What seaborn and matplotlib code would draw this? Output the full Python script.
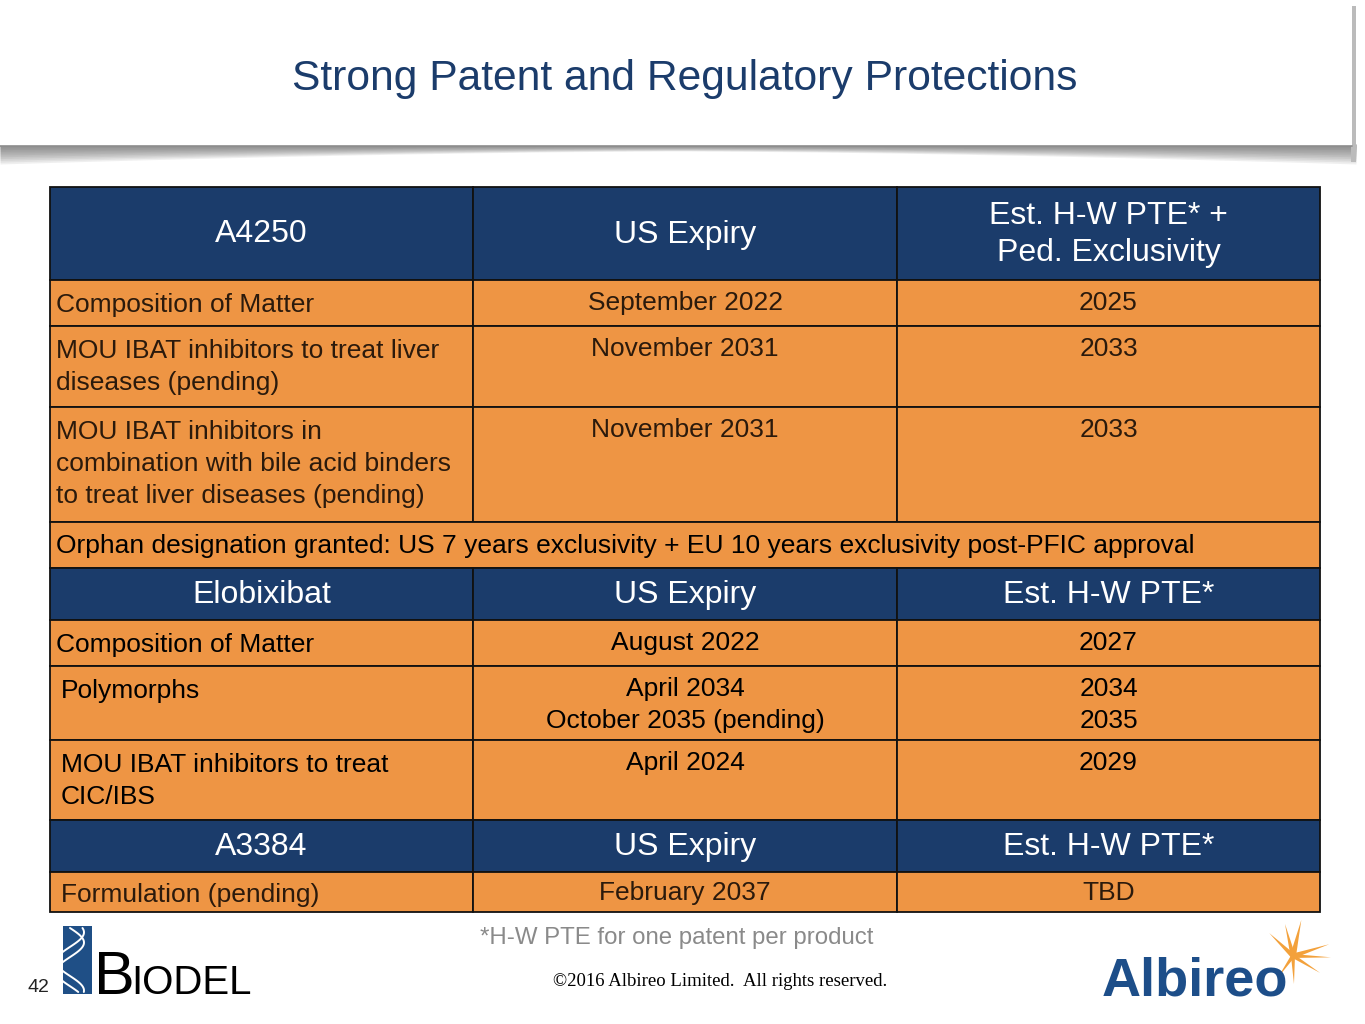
import matplotlib.pyplot as plt
import numpy as np
import seaborn as sns
from matplotlib.patches import Rectangle, Polygon

# ---- data ----
product_names = ["A4250", "Elobixibat", "A3384"]
expiry_heads = ["US Expiry", "US Expiry", "US Expiry"]
pte_heads = ["Est. H-W PTE* +\nPed. Exclusivity", "Est. H-W PTE*", "Est. H-W PTE*"]

a4250_items = [
    "Composition of Matter",
    "MOU IBAT inhibitors to treat liver\ndiseases (pending)",
    "MOU IBAT inhibitors in\ncombination with bile acid binders\nto treat liver diseases (pending)",
]
a4250_expiry = ["September 2022", "November 2031", "November 2031"]
a4250_pte = ["2025", "2033", "2033"]
orphan_note = ("Orphan designation granted: US 7 years exclusivity + "
               "EU 10 years exclusivity post-PFIC approval")

elobixibat_items = ["Composition of Matter", "Polymorphs",
                    "MOU IBAT inhibitors to treat\nCIC/IBS"]
elobixibat_expiry = ["August 2022", "April 2034\nOctober 2035 (pending)", "April 2024"]
elobixibat_pte = ["2027", "2034\n2035", "2029"]

a3384_items = ["Formulation (pending)"]
a3384_expiry = ["February 2037"]
a3384_pte = ["TBD"]

title = "Strong Patent and Regulatory Protections"
footnote = "*H-W PTE for one patent per product"
copyright_note = "\u00a92016 Albireo Limited.  All rights reserved."
page_number = "42"

# ---- layout ----
NAVY = "#1b3c6b"
ORANGE = "#ee9544"
col_edges = [50, 473, 897, 1320]
header_heights = [93, 52, 52]
body_heights = [[46, 81, 115], [46, 74, 80], [40]]
item_pads = [[6, 6, 6], [6, 11, 11], [11]]
orphan_height = 46
FS = 19

sns.set_theme(style="white")
plt.rcParams["font.family"] = ["Liberation Sans", "DejaVu Sans"]

fig = plt.figure(figsize=(13.65, 10.24), dpi=100)
ax = fig.add_axes([0, 0, 1, 1])
ax.set_xlim(0, 1365)
ax.set_ylim(1024, 0)
ax.axis("off")

# banner with curled shadow
xs = np.linspace(0, 1356, 300)
bow = np.abs((xs - 678) / 678) ** 1.6
for k in range(10):
    depth = 146 + (5 + 13 * bow) * (k + 1) / 10
    ax.fill_between(xs, 144, depth, color="#555555", alpha=0.09, lw=0, zorder=1)
ax.fill_between([1351, 1356], 6, 162, color="#bbbbbb", lw=0, zorder=1)
ax.add_patch(Rectangle((0, 0), 1352, 146, color="white", lw=0, zorder=2))
ax.plot([0, 1352], [146, 146], color="#8c8c8c", lw=1.2, zorder=2)
ax.text(685, 79, title, ha="center", va="center", fontsize=30.7, color=NAVY, zorder=3)

sections = [
    (a4250_items, a4250_expiry, a4250_pte),
    (elobixibat_items, elobixibat_expiry, elobixibat_pte),
    (a3384_items, a3384_expiry, a3384_pte),
]
text_colors = ["#2b1a0c", "black", "#2b1a0c"]
y = 187
for s, (items, expiry, pte) in enumerate(sections):
    h = header_heights[s]
    heads = [product_names[s], expiry_heads[s], pte_heads[s]]
    for c in range(3):
        x0, x1 = col_edges[c], col_edges[c + 1]
        ax.add_patch(Rectangle((x0, y), x1 - x0, h, facecolor=NAVY,
                               edgecolor="#111111", lw=1.3, zorder=4))
        ax.text((x0 + x1) / 2, y + h / 2 + 1, heads[c], ha="center", va="center",
                fontsize=23, color="white", linespacing=1.32, zorder=5)
    y += h
    tc = text_colors[s]
    for r in range(len(items)):
        h = body_heights[s][r]
        off = 11 if s == 2 else 13
        for c in range(3):
            x0, x1 = col_edges[c], col_edges[c + 1]
            ax.add_patch(Rectangle((x0, y), x1 - x0, h, facecolor=ORANGE,
                                   edgecolor="#111111", lw=1.3, zorder=4))
        ax.text(col_edges[0] + item_pads[s][r], y + off, items[r], ha="left", va="top",
                fontsize=FS, color=tc, linespacing=1.42, zorder=5)
        ax.text((col_edges[1] + col_edges[2]) / 2, y + off - 2, expiry[r], ha="center",
                va="top", fontsize=FS, color=tc, linespacing=1.42, zorder=5)
        ax.text((col_edges[2] + col_edges[3]) / 2, y + off - 2, pte[r], ha="center",
                va="top", fontsize=FS, color=tc, linespacing=1.42, zorder=5)
        y += h
    if s == 0:
        ax.add_patch(Rectangle((col_edges[0], y), col_edges[3] - col_edges[0],
                               orphan_height, facecolor=ORANGE, edgecolor="#111111",
                               lw=1.3, zorder=4))
        ax.text(col_edges[0] + 6, y + orphan_height / 2 + 1, orphan_note, ha="left",
                va="center", fontsize=FS, color="black", zorder=5)
        y += orphan_height

# footer
ax.text(677, 938, footnote, ha="center", va="center", fontsize=17.3, color="#8a8a8a")
ax.text(720, 981, copyright_note, ha="center", va="center", fontsize=13.5,
        color="black", family=["Liberation Serif", "DejaVu Serif"])
ax.text(38, 988, page_number, ha="center", va="center", fontsize=14, color="#222222")

# Biodel logo
ax.add_patch(Rectangle((63, 926), 29, 68, color="#1f4f86", lw=0, zorder=3))
tt = np.linspace(0, 1, 60)
for ph in (0.0, 1.1):
    ax.plot(70 + 14 * np.sin(tt * np.pi * 2.2 + ph), 928 + 64 * tt, color="white",
            lw=1.4, zorder=4)
ax.text(94, 994, "B", ha="left", va="baseline", fontsize=44, color="black")
ax.text(131, 994, "IODEL", ha="left", va="baseline", fontsize=29, color="black")

# Albireo logo
ax.text(1102, 996, "Albireo", ha="left", va="baseline", fontsize=39, color="#1d4e89",
        fontweight="bold")
cx, cy = 1293, 956
for ang, ln, w in [(77, 37, 6), (104, 33, 5), (136, 33, 5), (18, 38, 5),
                   (-2, 38, 4), (-32, 32, 4), (-88, 28, 4), (-125, 26, 4)]:
    t = np.deg2rad(ang)
    tip = (cx + ln * np.cos(t), cy - ln * np.sin(t))
    n = (np.sin(t) * w / 2, np.cos(t) * w / 2)
    ax.add_patch(Polygon([(cx + n[0], cy + n[1]), tip, (cx - n[0], cy - n[1])],
                         closed=True, color="#f3a13b", lw=0, zorder=2))

fig.savefig("out.png", dpi=100)
